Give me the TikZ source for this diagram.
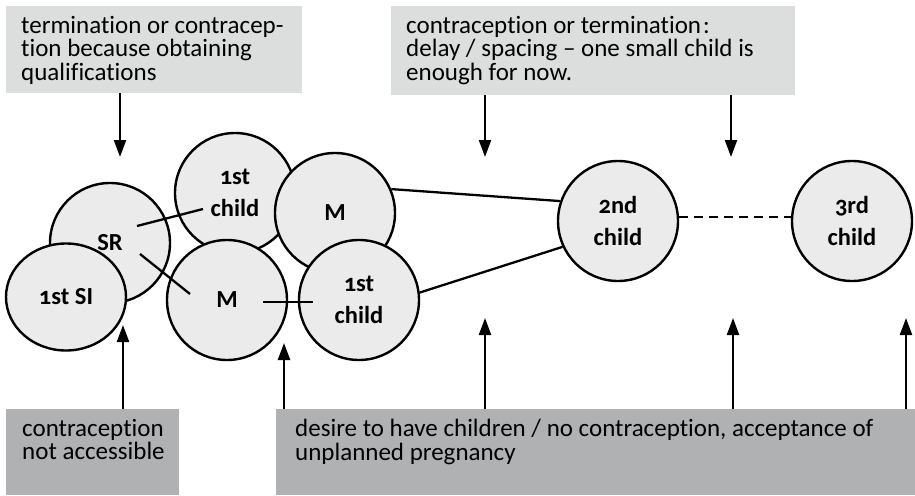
\documentclass[tikz,border=0pt]{standalone}
\usepackage{fontspec}
\setmainfont{Carlito}[Numbers=OldStyle, Ligatures=NoCommon]
\usepackage{xcolor}
\usetikzlibrary{shapes,arrows.meta,positioning}

\definecolor{notegray}{HTML}{DCDDDD}
\definecolor{cuegray}{HTML}{B0B1B3}
\definecolor{stagegray}{HTML}{EBEBEB}

\tikzset{
    stage/.style={circle, draw, line width=2.4pt, fill=stagegray, minimum size=120pt,
        inner sep=0pt, align=center, font=\fontsize{24.5}{32}\selectfont\bfseries},
    notebox/.style={fill=notegray, inner sep=0pt, anchor=north west},
    cuebox/.style={fill=cuegray, inner sep=0pt, anchor=north west},
    boxtext/.style={anchor=north west, inner sep=0pt, align=left,
        font=\fontsize{25}{23.5}\selectfont},
    link/.style={line width=2.3pt},
    push/.style={line width=2.3pt, -{Triangle[length=17pt,width=12pt]}},
}

\begin{document}
\begin{tikzpicture}[x=1pt,y=-1pt]
    \useasboundingbox (0,0) rectangle (915,495);

    % Boxes on top
    \node[notebox, minimum width=296pt, minimum height=87pt] (qualbox) at (6,6) {};
    \node[boxtext] (qualtext) at (21,16) {termination or contracep-\\tion because obtaining\\qualifications};
    \node[notebox, minimum width=404pt, minimum height=89pt] (delaybox) at (391,6) {};
    \node[boxtext] (delaytext) at (406,16) {contraception or termination\kern2pt:\\delay / spacing -- one small child is\\enough for now.};

    % Boxes at the bottom
    \node[cuebox, minimum width=173pt, minimum height=86pt] (accessbox) at (6,409) {};
    \node[boxtext] (accesstext) at (22,419) {contraception\\not accessible};
    \node[cuebox, minimum width=639pt, minimum height=86pt] (wishbox) at (276,409) {};
    \node[boxtext] (wishtext) at (295,419) {desire to have children / no contraception, acceptance of\\unplanned pregnancy};

    % Stages
    \node[stage] (sr) at (110,243) {SR};
    \node[stage, ellipse, minimum width=120pt, minimum height=107pt] (si) at (66,297) {1st SI};
    \node[stage] (kida) at (235,193) {1st\\child};
    \node[stage] (mtop) at (335,213) {M};
    \node[stage] (mlow) at (227,300) {M};
    \node[stage] (kidb) at (359,300) {1st\\child};
    \node[stage] (kidc) at (618,221) {2nd\\child};
    \node[stage] (kidd) at (852,221) {3rd\\child};

    % Links between stages
    \draw[link] ([shift={(27,-17)}]sr.center) -- ([shift={(-32,16)}]kida.center);
    \draw[link] ([shift={(30,11)}]sr.center) -- ([shift={(-37,-6)}]mlow.center);
    \draw[link] ([shift={(36,2)}]mlow.center) -- ([shift={(-46,2)}]kidb.center);
    \draw[link] (mtop.23) -- (kidc.161);
    \draw[link] (kidb.7) -- (kidc.205);
    \draw[link, dash pattern=on 9pt off 6pt] (kidc.4) -- (kidd.176);

    % Arrows
    \coordinate (d1) at (120,157);
    \coordinate (d2) at (485,157);
    \coordinate (d3) at (731,157);
    \coordinate (u1) at (123,325);
    \coordinate (u2) at (284,343);
    \coordinate (u3) at (485,318);
    \coordinate (u4) at (733,318);
    \coordinate (u5) at (906,318);
    \draw[push] (qualbox.south -| d1) -- (d1);
    \foreach \tip in {d2,d3} {
        \draw[push] (delaybox.south -| \tip) -- (\tip);
    }
    \draw[push] (accessbox.north -| u1) -- (u1);
    \foreach \tip in {u2,u3,u4,u5} {
        \draw[push] (wishbox.north -| \tip) -- (\tip);
    }
\end{tikzpicture}
\end{document}
